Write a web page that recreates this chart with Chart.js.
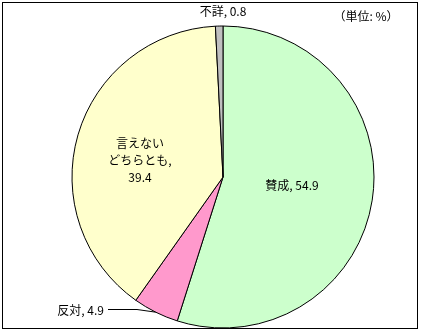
<!DOCTYPE html>
<html>
<head>
<meta charset="utf-8">
<script src="https://cdn.jsdelivr.net/npm/chart.js@4"></script>
<style>
  html, body { margin: 0; padding: 0; background: #fff; }
  #wrap { width: 421px; height: 332px; }
</style>
</head>
<body>
<div id="wrap"><canvas id="c" width="421" height="332"></canvas></div>
<script>
const categories = ['賛成', '反対', 'どちらとも言えない', '不詳'];
const values = [54.9, 4.9, 39.4, 0.8];
const colors = ['#ccffcc', '#ff99cc', '#ffffcc', '#c0c0c0'];
const unitLabel = '（単位: %）';

const FONT = '12px "Noto Sans CJK JP", "Liberation Sans", sans-serif';

// frame + labels drawn on top of the pie
const labelPlugin = {
  id: 'labels',
  beforeDraw(chart) {
    const ctx = chart.ctx;
    ctx.save();
    ctx.fillStyle = '#fff';
    ctx.fillRect(0, 0, chart.width, chart.height);
    ctx.strokeStyle = '#000';
    ctx.lineWidth = 1;
    ctx.strokeRect(2.5, 2.5, 415, 326);
    ctx.restore();
  },
  afterDraw(chart) {
    const ctx = chart.ctx;
    const arcs = chart.getDatasetMeta(0).data;
    const a0 = arcs[0];
    const cx = a0.x, cy = a0.y, r = a0.outerRadius;
    ctx.save();
    ctx.font = FONT;
    ctx.fillStyle = '#000';
    ctx.textBaseline = 'middle';

    // 賛成
    ctx.textAlign = 'center';
    ctx.fillText(categories[0] + ', ' + values[0].toFixed(1), cx + 69, cy + 8);

    // どちらとも言えない (split as in the original)
    ctx.fillText('言えない', cx - 83, cy - 34);
    ctx.fillText('どちらとも,', cx - 83, cy - 17);
    ctx.fillText(values[2].toFixed(1), cx - 83, cy);

    // 不詳
    ctx.fillText(categories[3] + ', ' + values[3].toFixed(1), cx, 11);

    // unit
    ctx.textAlign = 'center';
    ctx.fillText(unitLabel, 366, 16);

    // 反対 with leader line to middle of its arc
    const p = arcs[1];
    const mid = (p.startAngle + p.endAngle) / 2;
    const ex = cx + Math.cos(mid) * r;
    const ey = cy + Math.sin(mid) * r;
    ctx.textAlign = 'right';
    ctx.fillText(categories[1] + ', ' + values[1].toFixed(1), 104, 310);
    ctx.strokeStyle = '#000';
    ctx.lineWidth = 1;
    ctx.beginPath();
    ctx.moveTo(108, 309.5);
    ctx.lineTo(137, 309.5);
    ctx.lineTo(ex, ey);
    ctx.stroke();
    ctx.restore();
  }
};

new Chart(document.getElementById('c'), {
  type: 'pie',
  data: {
    labels: categories,
    datasets: [{
      data: values,
      backgroundColor: colors,
      borderColor: '#000',
      borderWidth: 1,
      hoverOffset: 0,
      borderAlign: 'center'
    }]
  },
  options: {
    responsive: false,
    animation: false,
    radius: 151,
    layout: { padding: { left: 73, right: 48, top: 27, bottom: 5 } },
    plugins: {
      legend: { display: false },
      tooltip: { enabled: false }
    }
  },
  plugins: [labelPlugin]
});
</script>
</body>
</html>
